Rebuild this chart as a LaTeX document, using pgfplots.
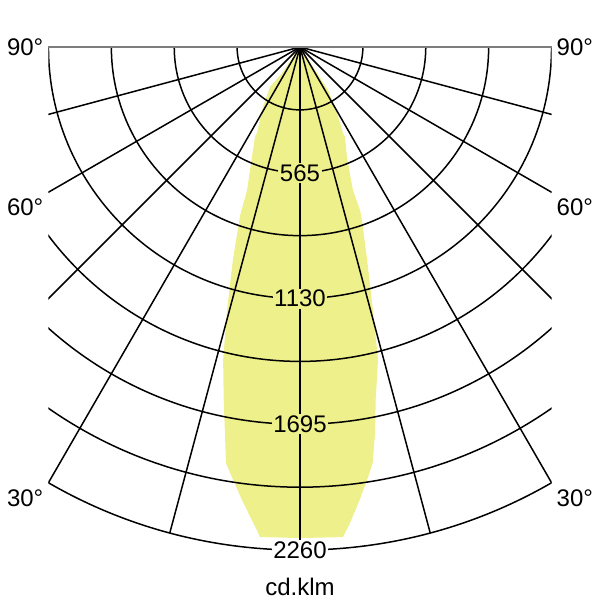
\documentclass[border=0pt]{standalone}
\usepackage{pgfplots}
\pgfplotsset{compat=1.18}
\usepackage{fontspec}
\setmainfont{Liberation Sans}
\definecolor{lumyellow}{RGB}{238,240,140}
\definecolor{topgray}{RGB}{125,125,125}

\begin{document}
\begin{tikzpicture}[lbl/.style={font=\fontsize{24}{28}\selectfont, inner sep=1.5pt}]
  \begin{axis}[
    x=0.2226pt, y=0.2226pt,
    xmin=-1130, xmax=1130, ymin=-2260, ymax=0,
    hide axis,
    clip=false,
  ]
    % luminous intensity curve, (angle from +x, cd/klm)
    \addplot[draw=none, fill=lumyellow, data cs=polar] coordinates {
      (0,0)
      (-56.8,140) (-56.9,231) (-59.7,312) (-63.4,432) (-63.4,452)
      (-66.9,537) (-69.7,685) (-69.8,780) (-70.3,826) (-72.5,1003)
      (-74.5,1226) (-76.0,1449) (-77.9,1622) (-79.0,1767) (-80.1,1898)
      (-81.0,1956) (-82.5,2053) (-84.0,2150) (-84.7,2193) (-85.0,2210)
      (-90.0,2206)
      (-94.7,2209) (-94.9,2192) (-95.6,2149) (-97.3,2052) (-99.0,1956)
      (-100.1,1898) (-101.0,1767) (-102.2,1622) (-103.8,1448) (-105.5,1226)
      (-107.5,1003) (-109.6,800) (-110.3,685) (-113.6,539) (-116.6,452)
      (-116.6,432) (-121.7,317) (-126.9,225) (-124.7,142)
      (0,0)
    };
    \coordinate (O) at (axis cs:0,0);
  \end{axis}

  % polar grid: 282.5 cd/klm per ring = 62.88pt
  \begin{scope}[shift={(O)}]
    \begin{scope}
      \clip (-251.54pt,-510pt) rectangle (251.54pt,0pt);
      \foreach \r in {62.88,125.77,188.65,251.54,314.42,377.30,440.19,503.07}
        \draw[line width=1.5pt] (0,0) circle[radius=\r pt];
      \foreach \a in {-15,-30,-45,-60,-75,-90,-105,-120,-135,-150,-165}
        \draw[line width=1.5pt] (0,0) -- (\a:503.07pt);
    \end{scope}
    \draw[topgray, line width=1.2pt] (-251.54pt,0) -- (251.54pt,0);

    \node[lbl, fill=lumyellow] at (0,-125.77pt) {565};
    \node[lbl, fill=lumyellow] at (0,-251.54pt) {1130};
    \node[lbl, fill=lumyellow] at (0,-377.30pt) {1695};
    \node[lbl, fill=white] at (0,-503.07pt) {2260};

    \node[lbl, anchor=east] at (-255pt,0) {90°};
    \node[lbl, anchor=east] at (-255pt,-160pt) {60°};
    \node[lbl, anchor=east] at (-255pt,-451pt) {30°};
    \node[lbl, anchor=west] at (255pt,0) {90°};
    \node[lbl, anchor=west] at (255pt,-160pt) {60°};
    \node[lbl, anchor=west] at (255pt,-451pt) {30°};

    \node[lbl, anchor=base] at (0,-548pt) {cd.klm};

    \path (-300pt,47pt) rectangle (300pt,-553pt);
  \end{scope}
\end{tikzpicture}
\end{document}
